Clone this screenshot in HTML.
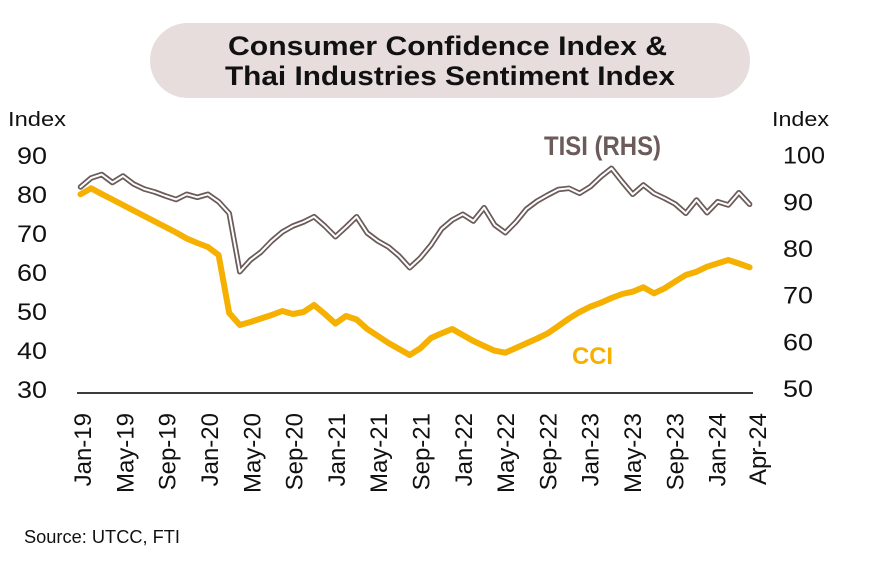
<!DOCTYPE html>
<html><head><meta charset="utf-8"><style>
html,body{margin:0;padding:0;background:#fff;}
svg{display:block;}
text{font-family:"Liberation Sans",Arial,sans-serif;}
</style></head><body>
<svg width="870" height="562" viewBox="0 0 870 562" xmlns="http://www.w3.org/2000/svg">
<rect x="0" y="0" width="870" height="562" fill="#fff"/>
<!-- Title pill -->
<rect x="150" y="23" width="600" height="75" rx="37.5" ry="37.5" fill="#E7DDDD"/>
<text x="447.5" y="55" text-anchor="middle" font-weight="bold" font-size="27" fill="#111" textLength="439" lengthAdjust="spacingAndGlyphs">Consumer Confidence Index &amp;</text>
<text x="450" y="85" text-anchor="middle" font-weight="bold" font-size="27" fill="#111" textLength="450" lengthAdjust="spacingAndGlyphs">Thai Industries Sentiment Index</text>

<!-- Axis titles -->
<text x="8" y="126" font-size="20" fill="#111" textLength="58" lengthAdjust="spacingAndGlyphs">Index</text>
<text x="772" y="126" font-size="20" fill="#111" textLength="57" lengthAdjust="spacingAndGlyphs">Index</text>

<!-- Left ticks -->
<g font-size="24" fill="#111">
<text x="17" y="164" textLength="30" lengthAdjust="spacingAndGlyphs">90</text>
<text x="17" y="203" textLength="30" lengthAdjust="spacingAndGlyphs">80</text>
<text x="17" y="242" textLength="30" lengthAdjust="spacingAndGlyphs">70</text>
<text x="17" y="281" textLength="30" lengthAdjust="spacingAndGlyphs">60</text>
<text x="17" y="320" textLength="30" lengthAdjust="spacingAndGlyphs">50</text>
<text x="17" y="359" textLength="30" lengthAdjust="spacingAndGlyphs">40</text>
<text x="17" y="398" textLength="30" lengthAdjust="spacingAndGlyphs">30</text>
</g>
<!-- Right ticks -->
<g font-size="24" fill="#111">
<text x="783" y="163.7" textLength="42" lengthAdjust="spacingAndGlyphs">100</text>
<text x="783" y="210.3" textLength="30" lengthAdjust="spacingAndGlyphs">90</text>
<text x="783" y="257" textLength="30" lengthAdjust="spacingAndGlyphs">80</text>
<text x="783" y="303.7" textLength="30" lengthAdjust="spacingAndGlyphs">70</text>
<text x="783" y="350.3" textLength="30" lengthAdjust="spacingAndGlyphs">60</text>
<text x="783" y="397" textLength="30" lengthAdjust="spacingAndGlyphs">50</text>
</g>

<!-- X axis line -->
<line x1="77" y1="393" x2="753" y2="393" stroke="#3c3c3c" stroke-width="2"/>

<!-- X labels -->
<g font-size="24" fill="#111" text-anchor="end">
<text transform="translate(91.1,413) rotate(-90)">Jan-19</text>
<text transform="translate(133.4,413) rotate(-90)">May-19</text>
<text transform="translate(175.7,413) rotate(-90)">Sep-19</text>
<text transform="translate(218,413) rotate(-90)">Jan-20</text>
<text transform="translate(260.3,413) rotate(-90)">May-20</text>
<text transform="translate(302.6,413) rotate(-90)">Sep-20</text>
<text transform="translate(344.9,413) rotate(-90)">Jan-21</text>
<text transform="translate(387.2,413) rotate(-90)">May-21</text>
<text transform="translate(429.5,413) rotate(-90)">Sep-21</text>
<text transform="translate(471.8,413) rotate(-90)">Jan-22</text>
<text transform="translate(514.1,413) rotate(-90)">May-22</text>
<text transform="translate(556.4,413) rotate(-90)">Sep-22</text>
<text transform="translate(598.7,413) rotate(-90)">Jan-23</text>
<text transform="translate(641,413) rotate(-90)">May-23</text>
<text transform="translate(683.3,413) rotate(-90)">Sep-23</text>
<text transform="translate(725.6,413) rotate(-90)">Jan-24</text>
<text transform="translate(766.1,413) rotate(-90)">Apr-24</text>
</g>

<!-- TISI line (double line) -->
<g fill="none" stroke-linejoin="round" stroke-linecap="round">
<polyline stroke="#6B5B5A" stroke-width="5.5" points="80.5,187 91.1,178 101.7,174.5 112.4,182.5 123,176 133.6,184 144.2,189 154.8,192 165.5,196 176.1,199.5 186.7,194.3 197.3,197.3 207.9,194.3 218.6,201.7 229.2,213.3 239.8,271.7 250.4,260 261,252 271.7,241 282.3,232 292.9,226 303.5,222 314.1,216.7 324.8,226 335.4,236.7 346,227 356.6,216.7 367.2,233 377.9,241 388.5,247 399.1,256 409.7,267.7 420.3,258 431,245 441.6,229 452.2,220 462.8,214.3 473.4,221 484.1,207.7 494.7,225 505.3,232.7 515.9,222 526.5,209 537.2,201 547.8,195 558.4,189.5 569,188.3 579.6,193.3 590.3,186.7 600.9,176.7 611.5,168.3 622.1,181.7 632.7,194.3 643.4,185 654,193.3 664.6,198.3 675.2,204 685.8,213.3 696.5,200 707.1,212.7 717.7,201.7 728.3,205 738.9,192.7 749.6,204.3"/>
<polyline stroke="#ffffff" stroke-width="2" points="80.5,187 91.1,178 101.7,174.5 112.4,182.5 123,176 133.6,184 144.2,189 154.8,192 165.5,196 176.1,199.5 186.7,194.3 197.3,197.3 207.9,194.3 218.6,201.7 229.2,213.3 239.8,271.7 250.4,260 261,252 271.7,241 282.3,232 292.9,226 303.5,222 314.1,216.7 324.8,226 335.4,236.7 346,227 356.6,216.7 367.2,233 377.9,241 388.5,247 399.1,256 409.7,267.7 420.3,258 431,245 441.6,229 452.2,220 462.8,214.3 473.4,221 484.1,207.7 494.7,225 505.3,232.7 515.9,222 526.5,209 537.2,201 547.8,195 558.4,189.5 569,188.3 579.6,193.3 590.3,186.7 600.9,176.7 611.5,168.3 622.1,181.7 632.7,194.3 643.4,185 654,193.3 664.6,198.3 675.2,204 685.8,213.3 696.5,200 707.1,212.7 717.7,201.7 728.3,205 738.9,192.7 749.6,204.3"/>
</g>

<!-- CCI line -->
<polyline fill="none" stroke="#F5B000" stroke-width="6" stroke-linejoin="round" stroke-linecap="round" points="80.5,194.3 91.1,188.3 101.7,194 112.4,199.5 123,205 133.6,210.5 144.2,216 154.8,221.5 165.5,227 176.1,232.5 186.7,238.5 197.3,243 207.9,247 218.6,255 229.2,313 239.8,325 250.4,322 261,318.5 271.7,315 282.3,311 292.9,314 303.5,312 314.1,305 324.8,314 335.4,323.5 346,316 356.6,319.5 367.2,329 377.9,336 388.5,343 399.1,349 409.7,355 420.3,348.3 431,338 441.6,333.3 452.2,329 462.8,335 473.4,341 484.1,346 494.7,350.7 505.3,352.7 515.9,348 526.5,343.3 537.2,338.5 547.8,333.3 558.4,326 569,318.5 579.6,312 590.3,306.7 600.9,302.7 611.5,298 622.1,294 632.7,291.7 643.4,287.3 654,293.3 664.6,288.3 675.2,281.5 685.8,275 696.5,271.7 707.1,266.7 717.7,263.3 728.3,260 738.9,263.5 749.6,267.3"/>

<!-- Series labels -->
<text x="544" y="155" font-size="27" font-weight="bold" fill="#6B5B5A" textLength="117" lengthAdjust="spacingAndGlyphs">TISI (RHS)</text>
<text x="572" y="364" font-size="24" font-weight="bold" fill="#F5B000" textLength="41" lengthAdjust="spacingAndGlyphs">CCI</text>

<!-- Source -->
<text x="24" y="543" font-size="18" fill="#111" textLength="156" lengthAdjust="spacingAndGlyphs">Source: UTCC, FTI</text>
</svg>
</body></html>
